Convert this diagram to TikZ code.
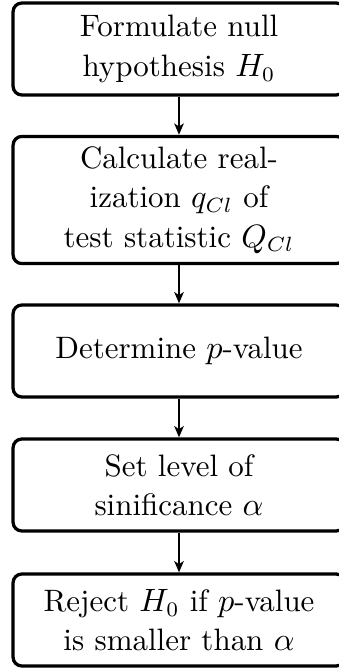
\documentclass[tikz,border=0pt]{standalone}
\usetikzlibrary{arrows.meta}
\begin{document}
\begin{tikzpicture}[x=0.339pt,y=-0.339pt,
  stepbox/.style={draw, line width=1.1pt, rounded corners=3pt,
    minimum width=112.5pt, minimum height=31.2pt, align=center,
    inner sep=3.5pt, font=\fontsize{10.5}{13.3}\selectfont},
  flow/.style={line width=0.7pt, -{Stealth[length=3.8pt,width=3.2pt,inset=1pt]}}]
\useasboundingbox (0,0) rectangle (338,671);
\node[stepbox] (a) at (179,49) {Formulate null\\hypothesis $H_0$};
\node[stepbox] (b) at (179,200) {Calculate real-\\ization $q_{Cl}$ of\\test statistic $Q_{Cl}$};
\node[stepbox] (c) at (179,351) {Determine $p$-value};
\node[stepbox] (d) at (179,485) {Set level of\\sinificance $\alpha$};
\node[stepbox] (e) at (179,620) {Reject $H_0$ if $p$-value\\is smaller than $\alpha$};
\draw[flow] (a) -- (b);
\draw[flow] (b) -- (c);
\draw[flow] (c) -- (d);
\draw[flow] (d) -- (e);
\end{tikzpicture}
\end{document}
